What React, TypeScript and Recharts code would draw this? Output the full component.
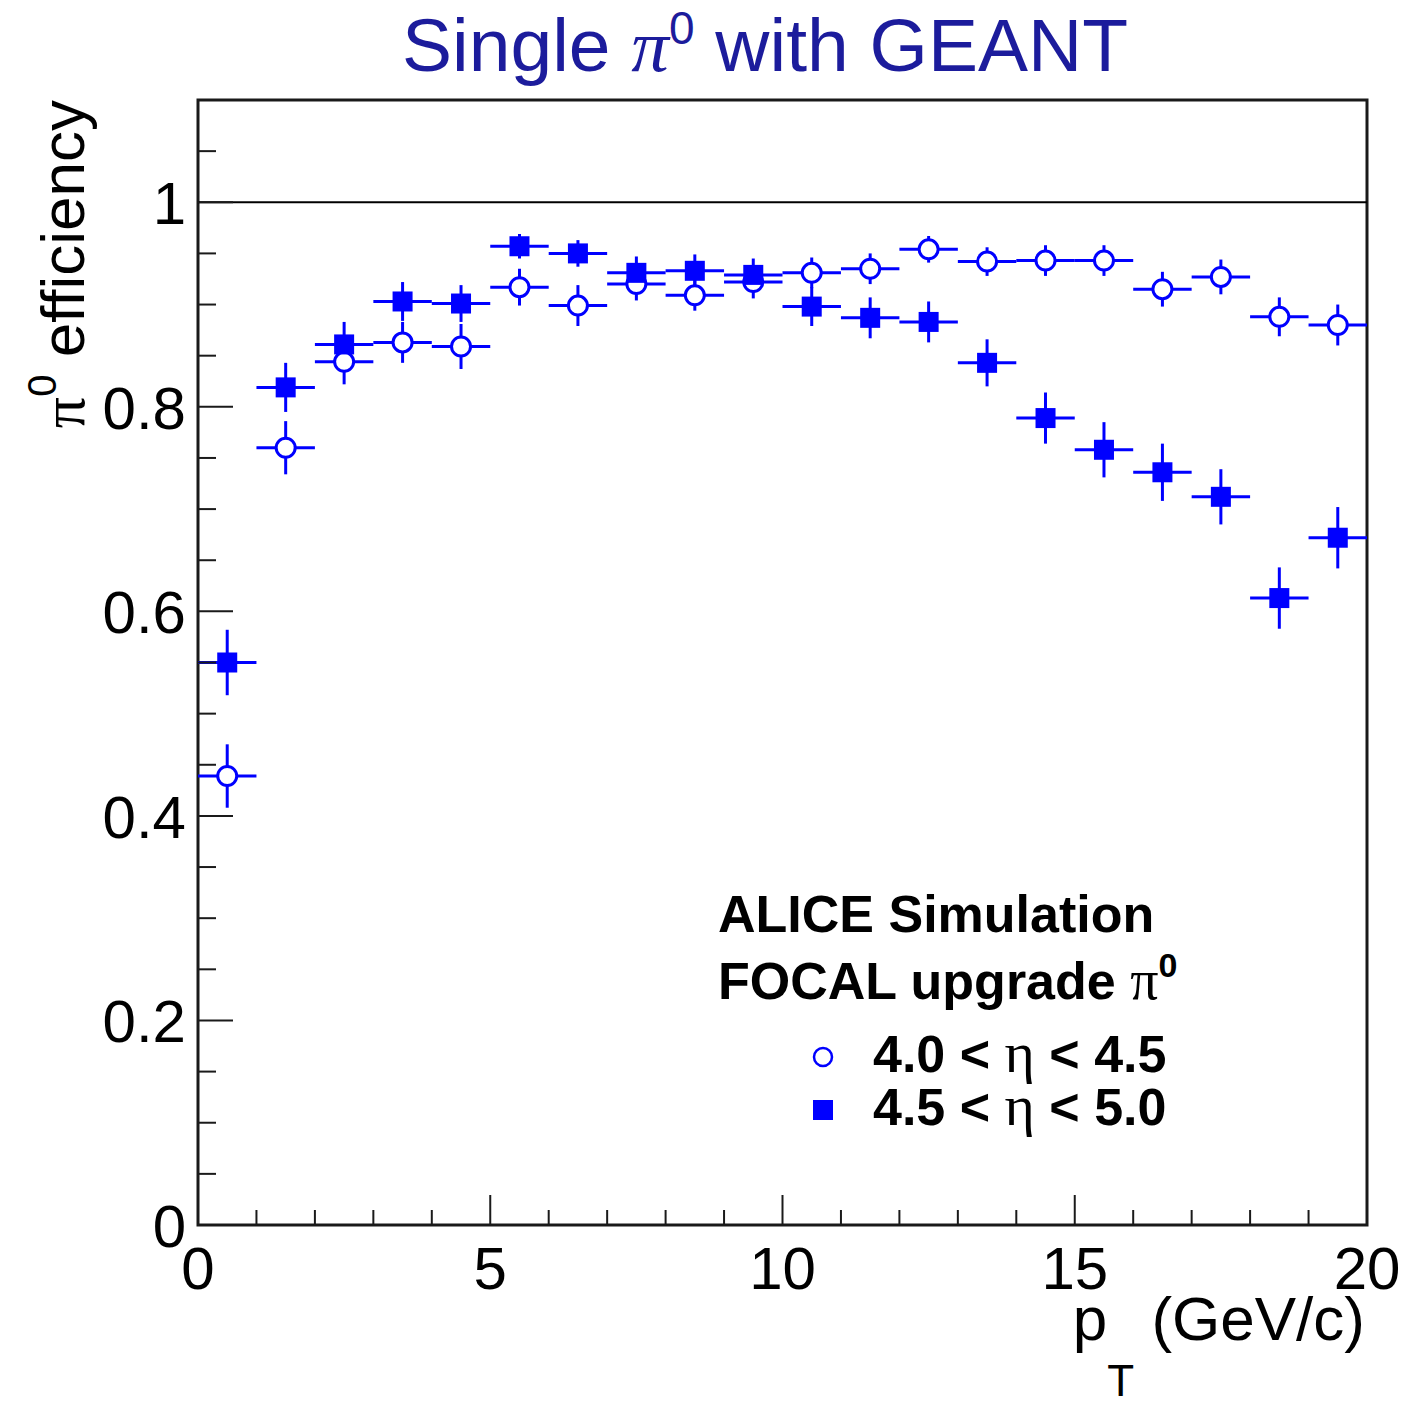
import React from "react";
import {
  ErrorBar,
  ReferenceArea,
  ReferenceLine,
  Scatter,
  ScatterChart,
  XAxis,
  YAxis,
  Label,
} from "recharts";

// pT bin centres (GeV/c), each bin is 1 GeV/c wide
const ptBins = [
  0.5, 1.5, 2.5, 3.5, 4.5, 5.5, 6.5, 7.5, 8.5, 9.5, 10.5, 11.5, 12.5, 13.5,
  14.5, 15.5, 16.5, 17.5, 18.5, 19.5,
];
const ptHalfWidth = 0.5;

// 4.0 < eta < 4.5 (open circles)
const effLowEta = [
  0.439, 0.76, 0.844, 0.863, 0.859, 0.917, 0.899, 0.92, 0.909, 0.922, 0.931,
  0.935, 0.954, 0.942, 0.943, 0.943, 0.915, 0.927, 0.888, 0.88,
];
const errLowEta = [
  0.031, 0.026, 0.022, 0.02, 0.022, 0.018, 0.02, 0.016, 0.015, 0.016, 0.015,
  0.015, 0.013, 0.014, 0.015, 0.015, 0.017, 0.017, 0.019, 0.02,
];

// 4.5 < eta < 5.0 (filled squares)
const effHighEta = [
  0.55, 0.819, 0.861, 0.903, 0.901, 0.957, 0.95, 0.931, 0.933, 0.929, 0.898,
  0.887, 0.883, 0.843, 0.789, 0.758, 0.736, 0.712, 0.613, 0.672,
];
const errHighEta = [
  0.032, 0.024, 0.022, 0.019, 0.018, 0.012, 0.013, 0.016, 0.016, 0.016, 0.019,
  0.02, 0.02, 0.023, 0.025, 0.027, 0.028, 0.027, 0.03, 0.03,
];

const xTicks = [
  0, 1, 2, 3, 4, 5, 6, 7, 8, 9, 10, 11, 12, 13, 14, 15, 16, 17, 18, 19, 20,
];
const xMajorTicks = [0, 5, 10, 15, 20];
const yTicks = [
  0, 0.05, 0.1, 0.15, 0.2, 0.25, 0.3, 0.35, 0.4, 0.45, 0.5, 0.55, 0.6, 0.65,
  0.7, 0.75, 0.8, 0.85, 0.9, 0.95, 1, 1.05, 1.1,
];
const yMajorTicks = [0, 0.2, 0.4, 0.6, 0.8, 1];

const SANS = "'Liberation Sans', Arial, Helvetica, sans-serif";
const SERIF = "'Liberation Serif', 'Times New Roman', serif";
const BLUE = "#0000ff";
const AXIS = "#1a1a1a";

const lowEtaData = ptBins.map((pt, i) => ({
  pt,
  eff: effLowEta[i],
  yErr: errLowEta[i],
  xErr: ptHalfWidth,
}));
const highEtaData = ptBins.map((pt, i) => ({
  pt,
  eff: effHighEta[i],
  yErr: errHighEta[i],
  xErr: ptHalfWidth,
}));

function XTick({ x, y, payload }: any) {
  const major = xMajorTicks.includes(payload.value);
  return (
    <g>
      <line
        x1={x}
        x2={x}
        y1={y}
        y2={y - (major ? 30 : 15)}
        stroke={AXIS}
        strokeWidth={2}
      />
      {major && (
        <text
          x={x}
          y={y + 64}
          textAnchor="middle"
          fontSize={60}
          fontFamily={SANS}
          fill="#000"
        >
          {payload.value}
        </text>
      )}
    </g>
  );
}

function YTick({ x, y, payload }: any) {
  const major = yMajorTicks.some((t) => Math.abs(t - payload.value) < 1e-6);
  return (
    <g>
      <line
        x1={x}
        x2={x + (major ? 35 : 18)}
        y1={y}
        y2={y}
        stroke={AXIS}
        strokeWidth={2}
      />
      {major && (
        <text
          x={x - 12}
          y={y + 22}
          textAnchor="end"
          fontSize={60}
          fontFamily={SANS}
          fill="#000"
        >
          {payload.value}
        </text>
      )}
    </g>
  );
}

function OpenCircle({ cx, cy }: any) {
  return (
    <circle cx={cx} cy={cy} r={9.5} fill="#fff" stroke={BLUE} strokeWidth={3} />
  );
}

function FilledSquare({ cx, cy }: any) {
  return <rect x={cx - 10} y={cy - 10} width={20} height={20} fill={BLUE} />;
}

function XTitle({ viewBox }: any) {
  const right = viewBox.x + viewBox.width;
  return (
    <text
      x={right - 2}
      y={viewBox.y + 115}
      textAnchor="end"
      fontSize={62}
      fontFamily={SANS}
      fill="#000"
    >
      <tspan>p</tspan>
      <tspan fontSize={44} dy={56}>
        T
      </tspan>
      <tspan dy={-56}> (GeV/c)</tspan>
    </text>
  );
}

function YTitle({ viewBox }: any) {
  const x = 84;
  const y = viewBox.y;
  return (
    <text
      x={x}
      y={y}
      transform={`rotate(-90 ${x} ${y})`}
      textAnchor="end"
      fontSize={62}
      fontFamily={SANS}
      fill="#000"
    >
      <tspan fontFamily={SERIF}>π</tspan>
      <tspan fontSize={40} dy={-28}>
        0
      </tspan>
      <tspan dy={28}> efficiency</tspan>
    </text>
  );
}

export default function App() {
  return (
    <div
      style={{
        position: "absolute",
        left: 0,
        top: 0,
        width: 1416,
        height: 1402,
        background: "#fff",
        overflow: "hidden",
      }}
    >
      <ScatterChart
        width={1416}
        height={1402}
        margin={{ top: 100, right: 49, left: 0, bottom: 0 }}
      >
        <XAxis
          type="number"
          dataKey="pt"
          domain={[0, 20]}
          ticks={xTicks}
          interval={0}
          axisLine={false}
          tickLine={false}
          tickSize={0}
          tickMargin={0}
          height={177}
          tick={<XTick />}
        >
          <Label content={<XTitle />} />
        </XAxis>
        <YAxis
          type="number"
          dataKey="eff"
          domain={[0, 1.1]}
          ticks={yTicks}
          interval={0}
          axisLine={false}
          tickLine={false}
          tickSize={0}
          tickMargin={0}
          width={198}
          tick={<YTick />}
        >
          <Label content={<YTitle />} />
        </YAxis>
        <ReferenceLine y={1} stroke="#000" strokeWidth={2} />
        <Scatter
          name="4.0 < η < 4.5"
          data={lowEtaData}
          shape={<OpenCircle />}
          isAnimationActive={false}
        >
          <ErrorBar dataKey="xErr" direction="x" width={0} stroke={BLUE} strokeWidth={3} />
          <ErrorBar dataKey="yErr" direction="y" width={0} stroke={BLUE} strokeWidth={3} />
        </Scatter>
        <Scatter
          name="4.5 < η < 5.0"
          data={highEtaData}
          shape={<FilledSquare />}
          isAnimationActive={false}
        >
          <ErrorBar dataKey="xErr" direction="x" width={0} stroke={BLUE} strokeWidth={3} />
          <ErrorBar dataKey="yErr" direction="y" width={0} stroke={BLUE} strokeWidth={3} />
        </Scatter>
        <ReferenceArea
          x1={0}
          x2={20}
          y1={0}
          y2={1.1}
          fill="none"
          fillOpacity={0}
          stroke={AXIS}
          strokeWidth={3}
        />
      </ScatterChart>

      <svg
        width={1416}
        height={1402}
        style={{ position: "absolute", left: 0, top: 0, pointerEvents: "none" }}
      >
        <text
          x={765}
          y={71}
          textAnchor="middle"
          fontSize={75}
          fontFamily={SANS}
          fill="#1c1c9c"
        >
          <tspan>Single </tspan>
          <tspan fontFamily={SERIF} fontStyle="italic">
            π
          </tspan>
          <tspan fontSize={46} dy={-27}>
            0
          </tspan>
          <tspan dy={27}> with GEANT</tspan>
        </text>

        <g fontFamily={SANS} fontWeight="bold" fontSize={52} fill="#000">
          <text x={718} y={932}>
            ALICE Simulation
          </text>
          <text x={718} y={999}>
            <tspan>FOCAL upgrade </tspan>
            <tspan fontFamily={SERIF} fontWeight="normal" fontSize={56}>
              π
            </tspan>
            <tspan fontSize={34} dy={-22}>
              0
            </tspan>
          </text>
          <circle cx={823} cy={1057} r={9} fill="#fff" stroke={BLUE} strokeWidth={2.5} />
          <text x={873} y={1072}>
            <tspan>4.0 &lt; </tspan>
            <tspan fontFamily={SERIF} fontWeight="normal" fontSize={58}>
              η
            </tspan>
            <tspan> &lt; 4.5</tspan>
          </text>
          <rect x={813} y={1100} width={20} height={20} fill={BLUE} />
          <text x={873} y={1125}>
            <tspan>4.5 &lt; </tspan>
            <tspan fontFamily={SERIF} fontWeight="normal" fontSize={58}>
              η
            </tspan>
            <tspan> &lt; 5.0</tspan>
          </text>
        </g>
      </svg>
    </div>
  );
}
